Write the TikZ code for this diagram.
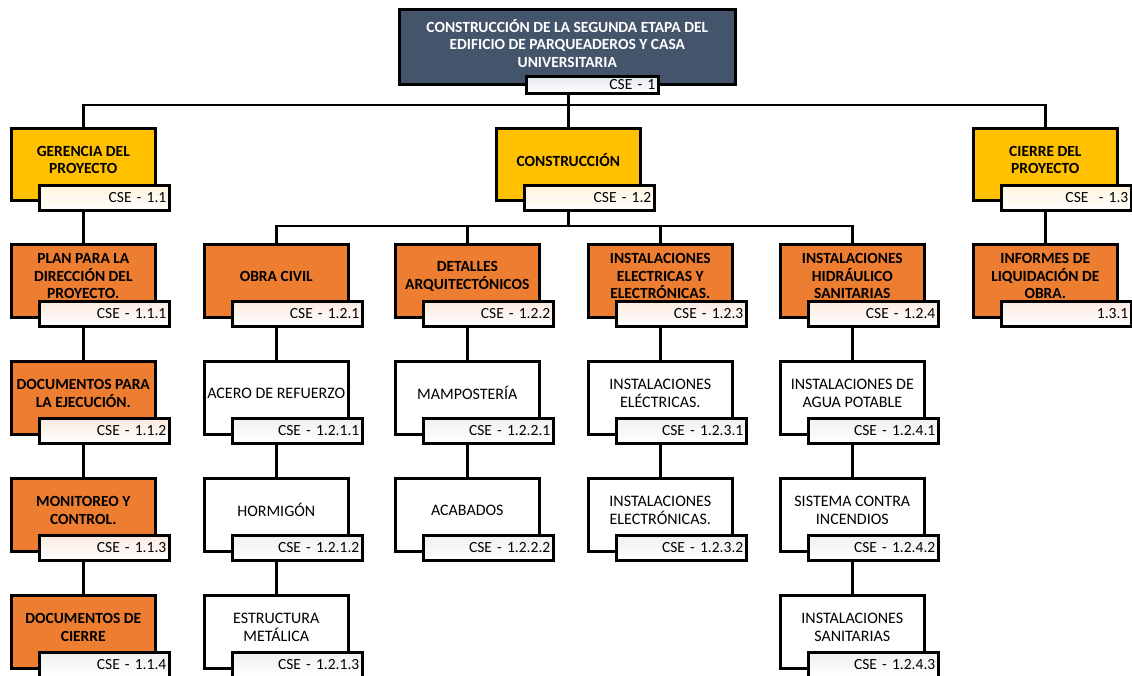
\documentclass[tikz,border=0pt]{standalone}
\usepackage{fontspec}
\setmainfont{Carlito}
\usetikzlibrary{calc}

\definecolor{wbsblue}{HTML}{44546A}
\definecolor{wbsyellow}{HTML}{FFC000}
\definecolor{wbsorange}{HTML}{ED7D31}
\definecolor{tintblue}{HTML}{E4E7EC}
\definecolor{tintyellow}{HTML}{FFF5DC}
\definecolor{tintorange}{HTML}{FBEADF}
\definecolor{tintwhite}{HTML}{F0F0F0}

\tikzset{
  box/.style={draw=black, line width=2.6pt, minimum width=144pt, minimum height=73pt,
    inner sep=0pt, anchor=north west},
  topbox/.style={box, fill=wbsblue, minimum width=336pt, minimum height=75pt},
  yellowbox/.style={box, fill=wbsyellow, minimum height=72pt},
  orangebox/.style={box, fill=wbsorange},
  whitebox/.style={box, fill=white},
  boldtext/.style={font=\fontsize{15.5}{17.5}\selectfont\bfseries, align=center, inner sep=0pt},
  toptext/.style={boldtext, text=white},
  plaintext/.style={font=\fontsize{16}{17.5}\selectfont, align=center, inner sep=0pt},
  codebox/.style={draw=black, line width=2.6pt, minimum height=25pt, text width=124pt,
    inner xsep=3pt, inner ysep=0pt, align=right, anchor=north west,
    font=\fontsize{15.5}{17.5}\selectfont},
  codeblue/.style={codebox, top color=tintblue, bottom color=white, minimum height=17pt, text width=126pt},
  codeyellow/.style={codebox, top color=tintyellow, bottom color=white},
  codeorange/.style={codebox, top color=tintorange, bottom color=white},
  codewhite/.style={codebox, top color=tintwhite, bottom color=white},
  conn/.style={draw=black, line width=2.6pt},
}

% name, left x, top y, box style, text style, text, code style, code
\newcommand{\wbsnode}[8]{%
  \node[#4] (#1) at (#2,#3) {};
  \node[#5] (#1-t) at ($(#1.center)+(0,-4.5)$) {#6};
  \node[#7] (#1-c) at ($(#1.north west)+(28,57)$) {#8};
}

\begin{document}
\begin{tikzpicture}[x=1pt,y=-1pt]
  \clip (0,0) rectangle (1132,675);
  \fill[white] (0,0) rectangle (1132,675);

  % root
  \node[topbox] (top) at (398,8) {};
  \node[toptext] (top-t) at ($(top.center)+(0,-3.5)$)
    {CONSTRUCCIÓN DE LA SEGUNDA ETAPA DEL\\EDIFICIO DE PARQUEADEROS Y CASA\\UNIVERSITARIA};
  \node[codeblue] (top-c) at (525,75) {CSE - 1};

  % first level
  \wbsnode{g1}{10}{127}{yellowbox}{boldtext}{GERENCIA DEL\\PROYECTO}{codeyellow}{CSE - 1.1}
  \wbsnode{g2}{495}{127}{yellowbox}{boldtext}{CONSTRUCCIÓN}{codeyellow}{CSE - 1.2}
  \wbsnode{g3}{972}{127}{yellowbox}{boldtext}{CIERRE DEL\\PROYECTO}{codeyellow}{CSE\ \ - 1.3}

  % project management
  \wbsnode{a1}{10}{243}{orangebox}{boldtext}{PLAN PARA LA\\DIRECCIÓN DEL\\PROYECTO.}{codeorange}{CSE - 1.1.1}
  \wbsnode{a2}{10}{360}{orangebox}{boldtext}{DOCUMENTOS PARA\\LA EJECUCIÓN.}{codeorange}{CSE - 1.1.2}
  \wbsnode{a3}{10}{477}{orangebox}{boldtext}{MONITOREO Y\\CONTROL.}{codeorange}{CSE - 1.1.3}
  \wbsnode{a4}{10}{594}{orangebox}{boldtext}{DOCUMENTOS DE\\CIERRE}{codewhite}{CSE - 1.1.4}

  % construction
  \wbsnode{c1}{203}{243}{orangebox}{boldtext}{OBRA CIVIL}{codeorange}{CSE - 1.2.1}
  \wbsnode{c2}{394}{243}{orangebox}{boldtext}{DETALLES\\ARQUITECTÓNICOS}{codeorange}{CSE - 1.2.2}
  \wbsnode{c3}{587}{243}{orangebox}{boldtext}{INSTALACIONES\\ELECTRICAS Y\\ELECTRÓNICAS.}{codeorange}{CSE - 1.2.3}
  \wbsnode{c4}{779}{243}{orangebox}{boldtext}{INSTALACIONES\\HIDRÁULICO\\SANITARIAS}{codeorange}{CSE - 1.2.4}

  \wbsnode{c11}{203}{360}{whitebox}{plaintext}{ACERO DE REFUERZO}{codewhite}{CSE - 1.2.1.1}
  \wbsnode{c12}{203}{477}{whitebox}{plaintext}{HORMIGÓN}{codewhite}{CSE - 1.2.1.2}
  \wbsnode{c13}{203}{594}{whitebox}{plaintext}{ESTRUCTURA\\METÁLICA}{codewhite}{CSE - 1.2.1.3}

  \wbsnode{c21}{394}{360}{whitebox}{plaintext}{MAMPOSTERÍA}{codewhite}{CSE - 1.2.2.1}
  \wbsnode{c22}{394}{477}{whitebox}{plaintext}{ACABADOS}{codewhite}{CSE - 1.2.2.2}

  \wbsnode{c31}{587}{360}{whitebox}{plaintext}{INSTALACIONES\\ELÉCTRICAS.}{codewhite}{CSE - 1.2.3.1}
  \wbsnode{c32}{587}{477}{whitebox}{plaintext}{INSTALACIONES\\ELECTRÓNICAS.}{codewhite}{CSE - 1.2.3.2}

  \wbsnode{c41}{779}{360}{whitebox}{plaintext}{INSTALACIONES DE\\AGUA POTABLE}{codewhite}{CSE - 1.2.4.1}
  \wbsnode{c42}{779}{477}{whitebox}{plaintext}{SISTEMA CONTRA\\INCENDIOS}{codewhite}{CSE - 1.2.4.2}
  \wbsnode{c43}{779}{594}{whitebox}{plaintext}{INSTALACIONES\\SANITARIAS}{codewhite}{CSE - 1.2.4.3}

  % closing
  \wbsnode{e1}{972}{243}{orangebox}{boldtext}{INFORMES DE\\LIQUIDACIÓN DE\\OBRA.}{codeorange}{1.3.1}

  % connectors
  \coordinate (bus1) at (0,105);
  \coordinate (bus2) at (0,226);
  \draw[conn] (g2.north |- top-c.south) -- (g2.north);
  \draw[conn] (g1.north) -- (g1.north |- bus1) -- (g3.north |- bus1) -- (g3.north);
  \draw[conn] (g2.north |- g2-c.south) -- (g2.north |- bus2);
  \draw[conn] (c1.north) -- (c1.north |- bus2) -- (c4.north |- bus2) -- (c4.north);
  \draw[conn] (c2.north |- bus2) -- (c2.north);
  \draw[conn] (c3.north |- bus2) -- (c3.north);

  \draw[conn] (g1.north |- g1-c.south) -- (a1.north);
  \draw[conn] (a1.north |- a1-c.south) -- (a2.north);
  \draw[conn] (a2.north |- a2-c.south) -- (a3.north);
  \draw[conn] (a3.north |- a3-c.south) -- (a4.north);

  \draw[conn] (c1.north |- c1-c.south) -- (c11.north);
  \draw[conn] (c11.north |- c11-c.south) -- (c12.north);
  \draw[conn] (c12.north |- c12-c.south) -- (c13.north);

  \draw[conn] (c2.north |- c2-c.south) -- (c21.north);
  \draw[conn] (c21.north |- c21-c.south) -- (c22.north);

  \draw[conn] (c3.north |- c3-c.south) -- (c31.north);
  \draw[conn] (c31.north |- c31-c.south) -- (c32.north);

  \draw[conn] (c4.north |- c4-c.south) -- (c41.north);
  \draw[conn] (c41.north |- c41-c.south) -- (c42.north);
  \draw[conn] (c42.north |- c42-c.south) -- (c43.north);

  \draw[conn] (g3.north |- g3-c.south) -- (e1.north);
\end{tikzpicture}
\end{document}
